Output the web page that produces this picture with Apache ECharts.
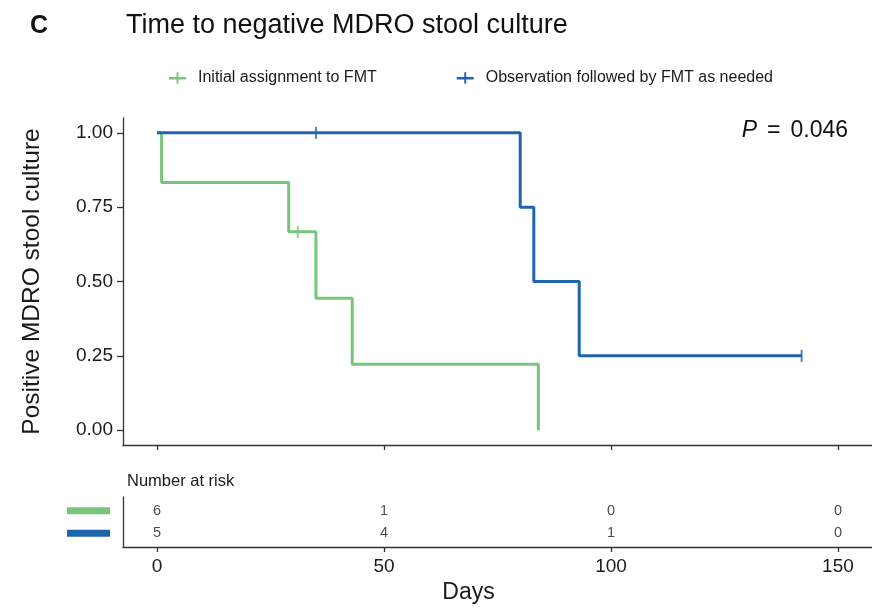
<!DOCTYPE html>
<html>
<head>
<meta charset="utf-8">
<script src="https://cdn.jsdelivr.net/npm/echarts@6/dist/echarts.min.js"></script>
<style>
  html, body { margin: 0; padding: 0; background: #fff; }
  #chart { width: 872px; height: 612px; }
</style>
</head>
<body>
<div id="chart"></div>
<script>
// Kaplan–Meier estimates: [day, proportion still culture-positive]
const fmtCurve = [[0, 1], [1, 0.833], [29, 0.667], [35, 0.444], [43, 0.222], [84, 0]];
const obsCurve = [[0, 1], [80, 0.75], [83, 0.5], [93, 0.25], [142, 0.25]];
// Censored observations: [day, proportion at that time]
const fmtCensored = [[31, 0.667]];
const obsCensored = [[35, 1], [142, 0.25]];
// Number at risk table
const riskDays = [0, 50, 100, 150];
const fmtAtRisk = [6, 1, 0, 0];
const obsAtRisk = [5, 4, 1, 0];
const yTicks = [0, 0.25, 0.5, 0.75, 1];
const groupNames = ['Initial assignment to FMT', 'Observation followed by FMT as needed'];

const GREEN = '#78c47a';
const BLUE = '#1f65ad';
const INK = '#1a1a1a';
const AXIS = '#333';
const FONT = 'Liberation Sans, Arial, Helvetica, sans-serif';
const plusIcon = 'path://M0,5 L8,5 L8,0 L10,0 L10,5 L18,5 L18,7.5 L10,7.5 L10,12 L8,12 L8,7.5 L0,7.5 Z';

const chart = echarts.init(document.getElementById('chart'), null, { renderer: 'canvas' });

const riskRow = (counts, row) => riskDays.map((d, i) => [d, row, counts[i]]);
const axisLine = { show: true, onZero: false, lineStyle: { color: AXIS, width: 1.3 } };

chart.setOption({
  animation: false,
  backgroundColor: '#fff',
  textStyle: { fontFamily: FONT },
  title: [
    { text: 'C', left: 25, top: 9, textStyle: { fontSize: 25, fontWeight: 'bold', color: '#111', fontFamily: FONT } },
    { text: 'Time to negative MDRO stool culture', left: 121, top: 7, textStyle: { fontSize: 27, fontWeight: 'normal', color: '#111', fontFamily: FONT } },
    { text: 'Number at risk', left: 122, top: 468, textStyle: { fontSize: 16.5, fontWeight: 'normal', color: INK, fontFamily: FONT } }
  ],
  legend: {
    data: groupNames.map((n, i) => ({ name: n, icon: plusIcon, itemStyle: { color: i ? BLUE : GREEN } })),
    left: 164, top: 65,
    itemWidth: 17, itemHeight: 12, itemGap: 80,
    textStyle: { fontSize: 16, color: INK, fontFamily: FONT, padding: [0, 0, 0, 7] },
    selectedMode: false
  },
  graphic: [{
    type: 'text', right: 24, top: 119,
    style: {
      text: '{i|P}{e|=}0.046',
      font: '23px ' + FONT, fill: '#111',
      rich: {
        i: { fontStyle: 'italic', fontSize: 23, fontFamily: FONT, fill: '#111' },
        e: { fontSize: 23, fontFamily: FONT, fill: '#111', padding: [0, 10, 0, 10] }
      }
    }
  }],
  grid: [
    { left: 123, right: 0, top: 118, height: 327 },
    { left: 123, right: 0, top: 497, height: 50 }
  ],
  xAxis: [
    {
      gridIndex: 0, type: 'value', min: -7.5, max: 157.5,
      axisLine: axisLine,
      axisTick: { show: true, customValues: riskDays, length: 5, lineStyle: { color: AXIS, width: 1.3 } },
      axisLabel: { show: false },
      splitLine: { show: false }
    },
    {
      gridIndex: 1, type: 'value', min: -7.5, max: 157.5,
      name: 'Days', nameLocation: 'middle', nameGap: 34,
      nameTextStyle: { fontSize: 23, color: INK, fontFamily: FONT, padding: [0, 58, 0, 0] },
      axisLine: axisLine,
      axisTick: { show: true, customValues: riskDays, length: 5, lineStyle: { color: AXIS, width: 1.3 } },
      axisLabel: { show: true, customValues: riskDays, fontSize: 19, color: INK, margin: 10, fontFamily: FONT },
      splitLine: { show: false }
    }
  ],
  yAxis: [
    {
      gridIndex: 0, type: 'value', min: -0.05, max: 1.05,
      name: 'Positive MDRO stool culture', nameLocation: 'middle', nameGap: 78,
      nameTextStyle: { fontSize: 24.5, color: INK, fontFamily: FONT },
      axisLine: axisLine,
      axisTick: { show: true, customValues: yTicks, length: 6, lineStyle: { color: AXIS, width: 1.3 } },
      axisLabel: { show: true, customValues: yTicks, fontSize: 19, color: INK, margin: 10, fontFamily: FONT,
                   formatter: v => v.toFixed(2) },
      splitLine: { show: false }
    },
    {
      gridIndex: 1, type: 'value', min: 0.4, max: 2.6,
      axisLine: axisLine,
      axisTick: { show: false },
      axisLabel: {
        show: true, customValues: [1, 2], margin: 13,
        formatter: v => (v === 2 ? '{g| }' : '{b| }'),
        rich: {
          g: { backgroundColor: GREEN, width: 43, height: 7, lineHeight: 7 },
          b: { backgroundColor: BLUE, width: 43, height: 7, lineHeight: 7 }
        }
      },
      splitLine: { show: false }
    }
  ],
  series: [
    {
      name: groupNames[0], type: 'line', step: 'end', xAxisIndex: 0, yAxisIndex: 0,
      data: fmtCurve, showSymbol: false, color: GREEN,
      lineStyle: { color: GREEN, width: 3 }, z: 3
    },
    {
      name: groupNames[1], type: 'line', step: 'end', xAxisIndex: 0, yAxisIndex: 0,
      data: obsCurve, showSymbol: false, color: BLUE,
      lineStyle: { color: BLUE, width: 3 }, z: 4
    },
    {
      name: 'fmt-censored', type: 'scatter', xAxisIndex: 0, yAxisIndex: 0,
      data: fmtCensored, symbol: 'rect', symbolSize: [2, 12],
      itemStyle: { color: GREEN }, z: 5
    },
    {
      name: 'obs-censored', type: 'scatter', xAxisIndex: 0, yAxisIndex: 0,
      data: obsCensored, symbol: 'rect', symbolSize: [2, 12],
      itemStyle: { color: BLUE }, z: 5
    },
    {
      name: 'fmt-risk', type: 'scatter', xAxisIndex: 1, yAxisIndex: 1,
      data: riskRow(fmtAtRisk, 2), symbolSize: 0,
      label: { show: true, position: 'inside', formatter: p => p.value[2], fontSize: 14.5, color: INK, fontFamily: FONT }
    },
    {
      name: 'obs-risk', type: 'scatter', xAxisIndex: 1, yAxisIndex: 1,
      data: riskRow(obsAtRisk, 1), symbolSize: 0,
      label: { show: true, position: 'inside', formatter: p => p.value[2], fontSize: 14.5, color: INK, fontFamily: FONT }
    }
  ]
});
</script>
</body>
</html>
